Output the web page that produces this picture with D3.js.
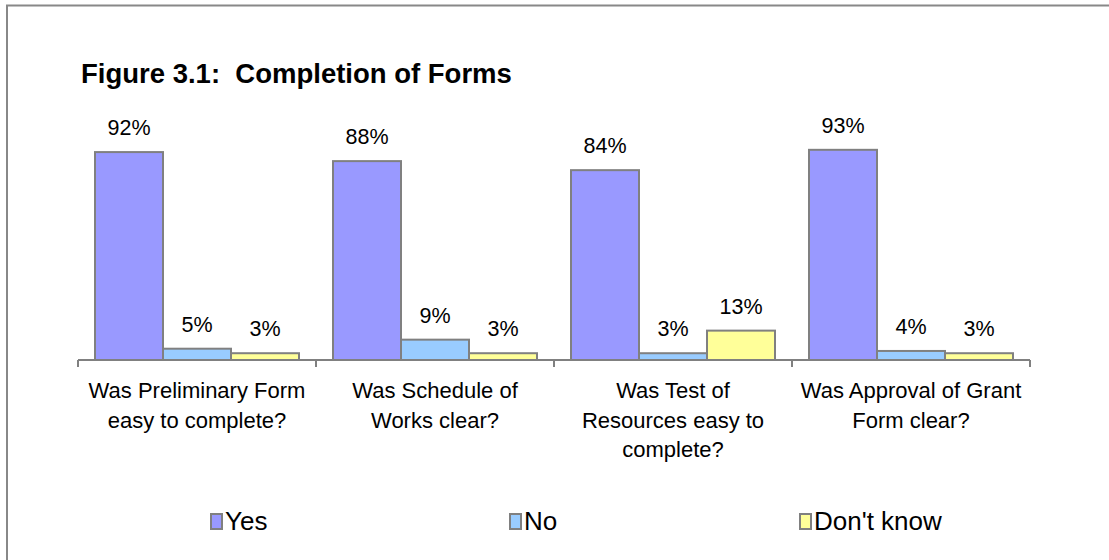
<!DOCTYPE html>
<html>
<head>
<meta charset="utf-8">
<script src="https://cdn.jsdelivr.net/npm/d3@7"></script>
<style>
  body { margin: 0; background: #fff; }
  text { font-family: "Liberation Sans", Arial, sans-serif; fill: #000; }
</style>
</head>
<body>
<div id="chart"></div>
<script>
// data
var categories = ["Preliminary", "Schedule", "Test", "Approval"];
var categoryLines = [
	["Was Preliminary Form", "easy to complete?"],
	["Was Schedule of", "Works clear?"],
	["Was Test of", "Resources easy to", "complete?"],
	["Was Approval of Grant", "Form clear?"]
];
var seriesNames = ["Yes", "No", "Don't know"];
var yesValues = [0.92, 0.88, 0.84, 0.93];
var noValues = [0.05, 0.09, 0.03, 0.04];
var dontKnowValues = [0.03, 0.03, 0.13, 0.03];
var seriesColors = ["#9999FF", "#99CCFF", "#FFFF99"];

var seriesValues = [yesValues, noValues, dontKnowValues];

var width = 1109, height = 560;

var svg = d3.select("#chart")
	.append("svg")
		.attr("width", width)
		.attr("height", height);

// chart frame (runs off the right and bottom edges)
svg.append("rect")
	.attr("x", 7)
	.attr("y", 5.5)
	.attr("width", 1120)
	.attr("height", 580)
	.attr("fill", "none")
	.attr("stroke", "#888")
	.attr("stroke-width", 2);

svg.append("text")
	.attr("x", 81)
	.attr("y", 83)
	.attr("font-size", 27.5)
	.attr("font-weight", "bold")
	.style("white-space", "pre")
	.text("Figure 3.1:  Completion of Forms");

var x0 = d3.scaleBand()
	.domain(categories)
	.range([78, 1030]);

var x1 = d3.scaleBand()
	.domain(seriesNames)
	.range([17, x0.bandwidth() - 17]);

var y = d3.scaleLinear()
	.domain([0, 1])
	.range([360, 134]);

var groups = svg.append("g")
	.selectAll("g")
	.data(categories)
	.enter()
		.append("g")
		.attr("transform", d => "translate(" + x0(d) + ",0)");

var bars = groups.selectAll("g")
	.data((d, i) => seriesNames.map((s, j) => ({series: s, value: seriesValues[j][i], color: seriesColors[j]})))
	.enter()
		.append("g");

bars.append("rect")
	.attr("x", d => x1(d.series))
	.attr("y", d => y(d.value))
	.attr("width", x1.bandwidth())
	.attr("height", d => y(0) - y(d.value))
	.attr("fill", d => d.color)
	.attr("stroke", "#808080")
	.attr("stroke-width", 2);

bars.append("text")
	.attr("x", d => x1(d.series) + x1.bandwidth() / 2)
	.attr("y", d => y(d.value) - 17)
	.attr("text-anchor", "middle")
	.attr("font-size", 21.5)
	.text(d => Math.round(d.value * 100) + "%");

// category axis
var axis = svg.append("g");

axis.append("line")
	.attr("x1", x0.range()[0])
	.attr("x2", x0.range()[1])
	.attr("y1", y(0))
	.attr("y2", y(0))
	.attr("stroke", "#808080")
	.attr("stroke-width", 2);

var tickPositions = categories.map(c => x0(c)).concat([x0.range()[1]]);

axis.selectAll(".tick")
	.data(tickPositions)
	.enter()
		.append("line")
		.attr("x1", d => d)
		.attr("x2", d => d)
		.attr("y1", y(0))
		.attr("y2", y(0) + 7)
		.attr("stroke", "#808080")
		.attr("stroke-width", 2);

axis.selectAll(".catlabel")
	.data(categories)
	.enter()
		.append("text")
		.attr("text-anchor", "middle")
		.attr("font-size", 22)
		.each(function(d, i) {
			var t = d3.select(this);
			categoryLines[i].forEach((line, k) => {
				t.append("tspan")
					.attr("x", x0(d) + x0.bandwidth() / 2)
					.attr("y", 398 + k * 29.5)
					.text(line);
			});
		});

// legend
var legendX = [211, 510, 800];

var legend = svg.append("g")
	.selectAll("g")
	.data(seriesNames)
	.enter()
		.append("g")
		.attr("transform", (d, i) => "translate(" + legendX[i] + ",514)");

legend.append("rect")
	.attr("width", 11)
	.attr("height", 15)
	.attr("fill", (d, i) => seriesColors[i])
	.attr("stroke", "#808080")
	.attr("stroke-width", 2);

legend.append("text")
	.attr("x", 14)
	.attr("y", 16)
	.attr("font-size", 26)
	.text(d => d);
</script>
</body>
</html>
